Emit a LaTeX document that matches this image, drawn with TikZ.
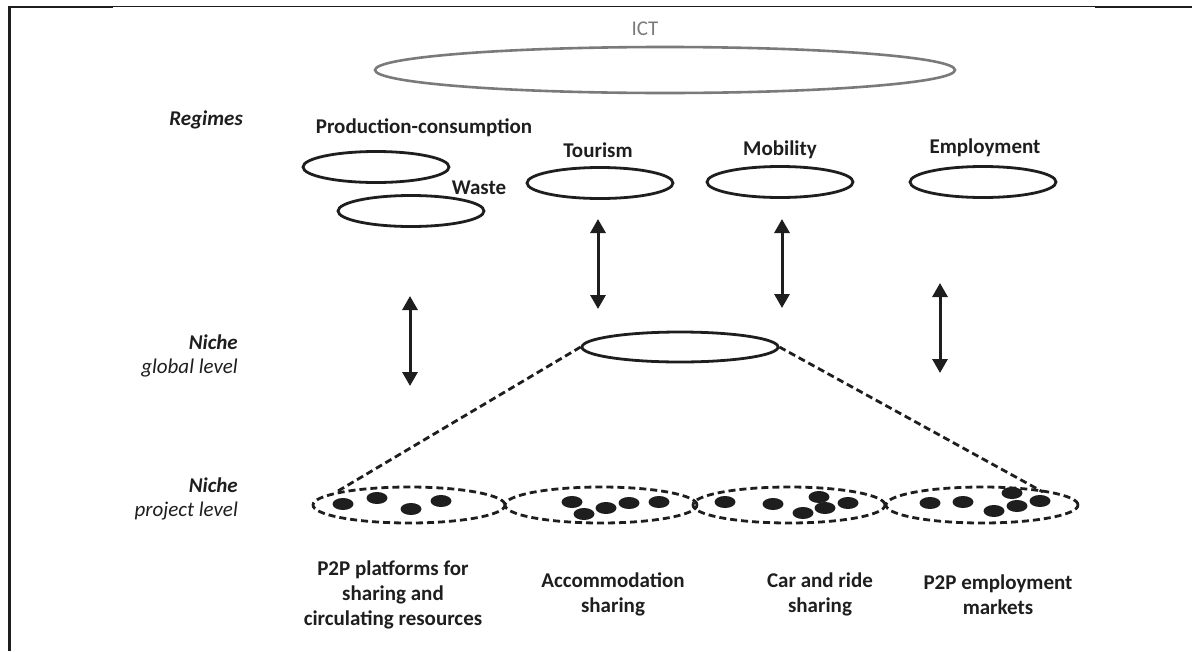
\documentclass[tikz,border=0pt]{standalone}
\usepackage{fontspec}
\setmainfont{Carlito}
\usetikzlibrary{shapes.geometric,arrows.meta}
\definecolor{ink}{HTML}{1E1E1E}
\definecolor{ictgray}{HTML}{7A7A7A}
\begin{document}
\begin{tikzpicture}[x=1pt,y=-1pt,
  regime/.style={ellipse,draw=ink,line width=2.8pt,minimum width=146pt,minimum height=31pt,inner sep=0pt},
  project/.style={ellipse,draw=ink,dash pattern=on 7pt off 4pt,line width=2.8pt,minimum width=192pt,minimum height=36pt,inner sep=0pt},
  blob/.style={ellipse,fill=ink,minimum width=21pt,minimum height=12pt,inner sep=0pt},
  lbl/.style={font=\bfseries\fontsize{21}{25}\selectfont,text=ink,align=center,inner sep=0pt},
  side/.style={font=\fontsize{21}{25}\selectfont,text=ink,anchor=east,inner sep=0pt},
  link/.style={draw=ink,line width=3pt,{Triangle[length=14pt,width=15pt]}-{Triangle[length=14pt,width=15pt]}},
  zoomline/.style={draw=ink,dash pattern=on 7pt off 4pt,line width=2.8pt}
]
\useasboundingbox (0,0) rectangle (1192,651);

% frame of the table cell
\draw[ink,line width=1.4pt] (9,6.5) -- (1192,6.5);
\draw[ink,line width=2.6pt] (9,7) -- (113,7);
\draw[ink,line width=2.6pt] (1095,7) -- (1192,7);
\draw[ink,line width=3pt] (9.5,5.7) -- (9.5,651);

% landscape level
\node[ellipse,draw=ictgray,line width=2.6pt,minimum width=580pt,minimum height=46pt,inner sep=0pt] (ict) at (665,70) {};
\node[font=\fontsize{21}{25}\selectfont,text=ictgray,inner sep=0pt] (ictlbl) at (645,29) {ICT};

% level captions
\node[side,font=\bfseries\itshape\fontsize{21}{25}\selectfont] (regimes) at (243,120) {Regimes};
\node[side,font=\bfseries\itshape\fontsize{21}{25}\selectfont] (niche1) at (238,342) {Niche};
\node[side,font=\itshape\fontsize{21}{25}\selectfont] (glob1) at (238,368) {global level};
\node[side,font=\bfseries\itshape\fontsize{21}{25}\selectfont] (niche2) at (238,485) {Niche};
\node[side,font=\itshape\fontsize{21}{25}\selectfont] (proj1) at (238,511) {project level};

% regimes
\node[regime] (prod) at (376,167) {};
\node[regime] (waste) at (411,211) {};
\node[regime] (tour) at (600,183) {};
\node[regime] (mob) at (780,182) {};
\node[regime] (empl) at (983,182) {};
\node[lbl] (prodlbl) at (424,128) {Production-consumption};
\node[lbl] (wastelbl) at (479,188) {Waste};
\node[lbl] (tourlbl) at (598,150) {Tourism};
\node[lbl] (moblbl) at (780,150) {Mobility};
\node[lbl] (empllbl) at (985,148) {Employment};

% global niche
\node[regime,minimum width=196pt,minimum height=30pt] (glob) at (680,347) {};

% interaction arrows
\coordinate (a1t) at (410,296); \coordinate (a1b) at (410,386);
\coordinate (a2t) at (598,219); \coordinate (a2b) at (598,309);
\coordinate (a3t) at (782,219); \coordinate (a3b) at (782,308);
\coordinate (a4t) at (940,283); \coordinate (a4b) at (940,373);
\draw[link] (a1t) -- (a1b);
\draw[link] (a2t) -- (a2b);
\draw[link] (a3t) -- (a3b);
\draw[link] (a4t) -- (a4b);

% project-level niches
\node[project] (p1) at (409,505) {};
\node[project] (p2) at (601,505) {};
\node[project] (p3) at (789,505) {};
\node[project] (p4) at (982,505) {};

% zoom from global niche to projects
\coordinate (zl) at (338,491);
\coordinate (zr) at (1043,492);
\draw[zoomline] (glob.west) -- (zl);
\draw[zoomline] (glob.east) -- (zr);

% individual projects
\foreach \n/\x/\y in {b1/343/504,b2/377/498,b3/411/509,b4/441/501,
  b5/572/502,b6/584/514,b7/606/508,b8/629/503,b9/659/502,
  b10/725/502,b11/773/504,b12/819/497,b13/803/513,b14/825/508,b15/848/503,
  b16/930/503,b17/963/502,b18/1012/493,b19/994/511,b20/1017/506,b21/1040/501}
  \node[blob] (\n) at (\x,\y) {};

% project-level captions
\node[lbl] (c1) at (393,595) {P2P platforms for\\sharing and\\circulating resources};
\node[lbl] (c2) at (613,594.5) {Accommodation\\sharing};
\node[lbl] (c3) at (820,594.5) {Car and ride\\sharing};
\node[lbl] (c4) at (998,594.5) {P2P employment\\markets};
\end{tikzpicture}
\end{document}
